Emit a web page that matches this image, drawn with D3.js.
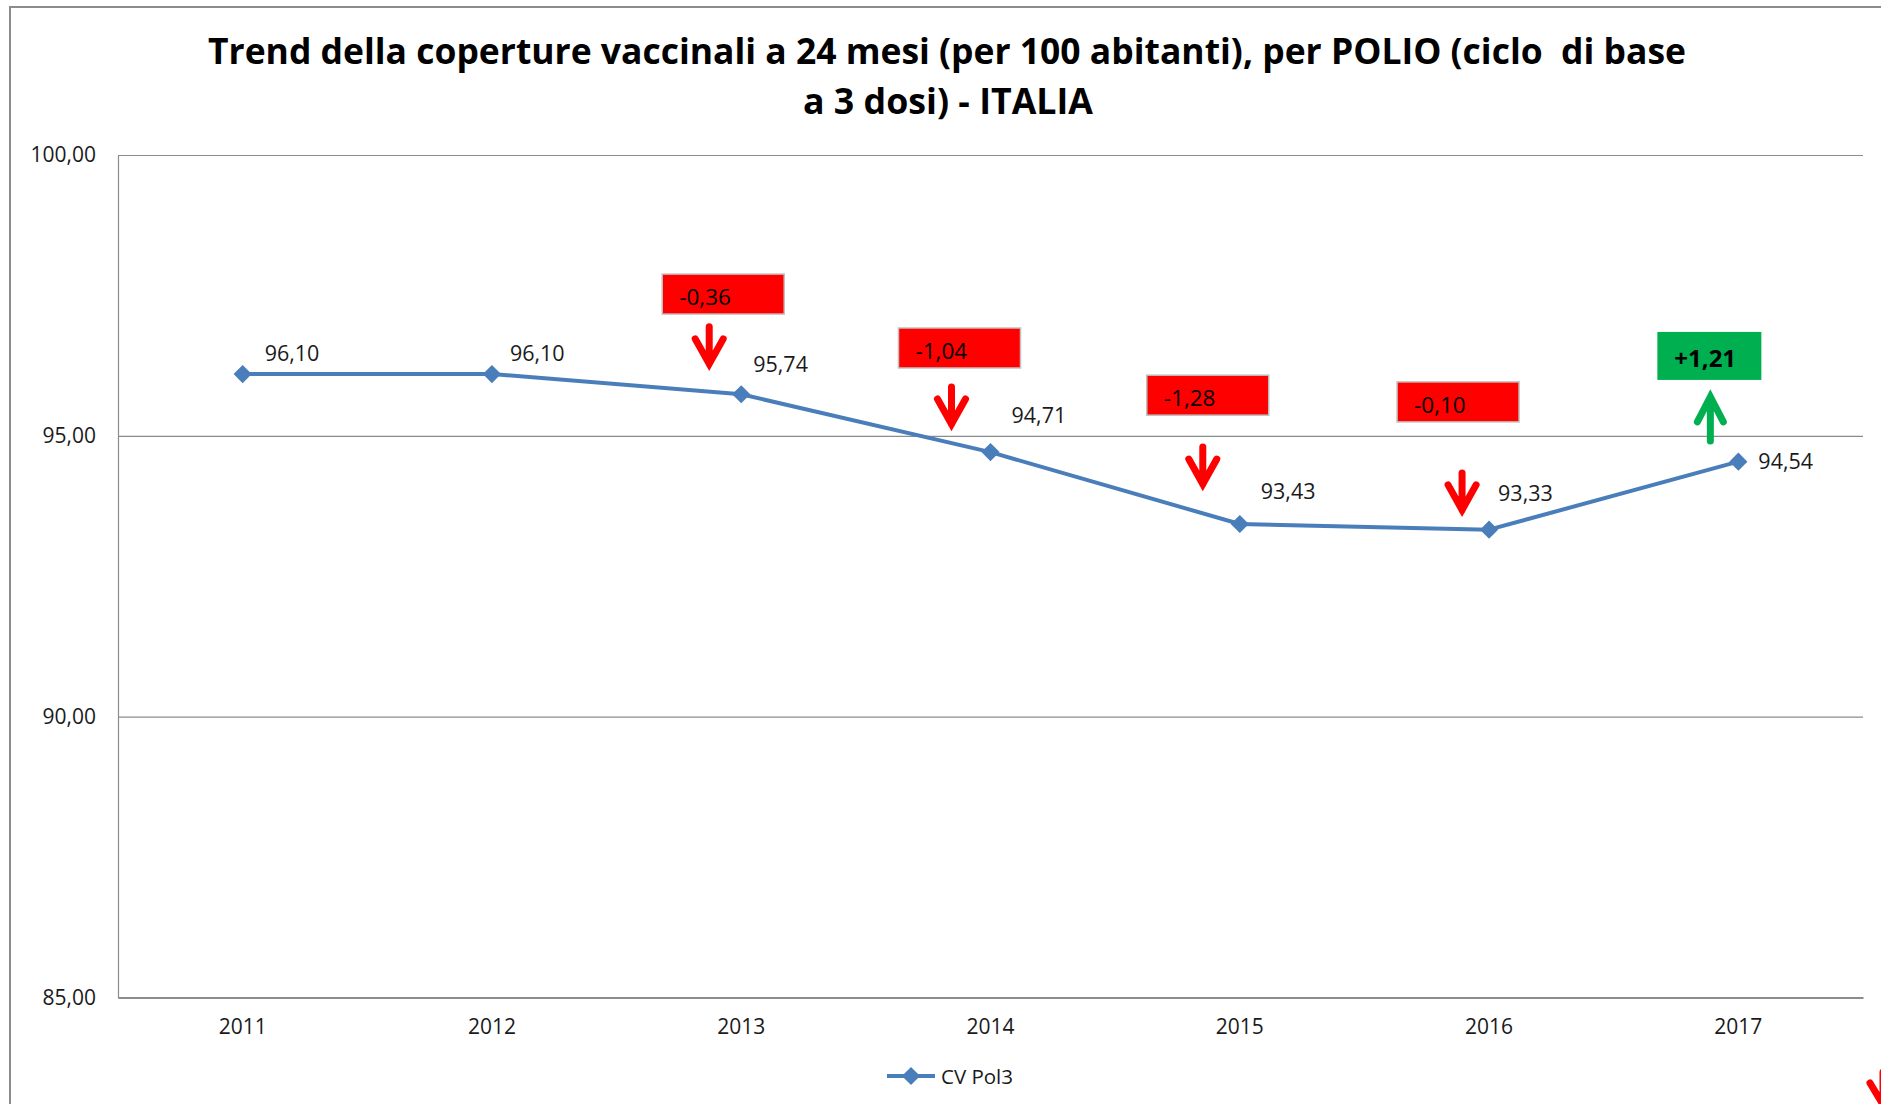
<!DOCTYPE html>
<html lang="it">
<head>
    <meta charset="UTF-8">
    <title>Trend coperture vaccinali POLIO - ITALIA</title>
    <script src="https://d3js.org/d3.v7.min.js"></script>
    <style>
        body {
            margin: 0;
            background: #fff;
            font-family: "Open Sans", Arial, sans-serif;
        }
        svg text {
            fill: #1a1a1a;
        }
        .title {
            font-weight: bold;
            font-size: 35px;
            white-space: pre;
            fill: #000;
        }
        .axis text {
            font-family: "Open Sans", Arial, sans-serif;
            font-size: 21px;
        }
        .axis path, .axis line {
            stroke: #8c8c8c;
        }
    </style>
</head>
<body>
    <svg id="chart" width="1881" height="1104"></svg>

    <script>
        // Dati
        const years = ["2011", "2012", "2013", "2014", "2015", "2016", "2017"];
        const coverage = [96.10, 96.10, 95.74, 94.71, 93.43, 93.33, 94.54];
        const yTicks = [85, 90, 95, 100];
        const seriesName = "CV Pol3";

        // Variazioni annuali (riquadri colorati)
        const changeYears = ["2013", "2014", "2015", "2016", "2017"];
        const changeLabels = ["-0,36", "-1,04", "-1,28", "-0,10", "+1,21"];
        const boxTop = [97.88, 96.92, 96.08, 95.96, 96.85];     // in unità dell'asse y
        const arrowTail = [96.94, 95.87, 94.80, 94.34, 94.91];  // in unità dell'asse y

        // Posizionamento (px rispetto al centro della categoria)
        const boxShift = [-79, -92, -93, -92, -81];
        const arrowShift = [-32, -39, -37, -27, -28];
        const labelDx = [22, 18, 12, 21, 21, 9, 20];
        const labelDy = [-21, -21, -30, -37, -33, -36, 0];

        const fmt = v => v.toFixed(2).replace(".", ",");

        const svg = d3.select("#chart");
        const plotLeft = 118, plotRight = 1863, plotTop = 155, plotBottom = 997.5;

        // Cornice
        svg.append("rect")
            .attr("x", 10).attr("y", 7)
            .attr("width", 1950).attr("height", 1200)
            .attr("fill", "#fff")
            .attr("stroke", "#8c8c8c")
            .attr("stroke-width", 2);

        // Titolo
        svg.append("text").attr("class", "title")
            .attr("x", 208).attr("y", 64)
            .attr("textLength", 1478).attr("lengthAdjust", "spacingAndGlyphs")
            .text("Trend della coperture vaccinali a 24 mesi (per 100 abitanti), per POLIO (ciclo  di base");
        svg.append("text").attr("class", "title")
            .attr("x", 803).attr("y", 114)
            .attr("textLength", 290).attr("lengthAdjust", "spacingAndGlyphs")
            .text("a 3 dosi) - ITALIA");

        // Scale
        const x = d3.scaleBand().domain(years).range([plotLeft, plotRight]).padding(0);
        const y = d3.scaleLinear().domain([85, 100]).range([plotBottom, plotTop]);
        const cx = d => x(d) + x.bandwidth() / 2;

        // Asse y + griglia
        svg.append("g")
            .attr("class", "axis y-axis")
            .attr("transform", `translate(${plotLeft},0)`)
            .call(d3.axisLeft(y)
                .tickValues(yTicks)
                .tickSize(-(plotRight - plotLeft))
                .tickSizeOuter(0)
                .tickPadding(22)
                .tickFormat(fmt))
            .call(g => g.selectAll(".tick line").attr("stroke", "#8c8c8c").attr("stroke-width", 1.2))
            .call(g => g.select(".domain").attr("stroke-width", 1.2));

        // Asse x
        svg.append("g")
            .attr("class", "axis x-axis")
            .attr("transform", `translate(0,${plotBottom})`)
            .call(d3.axisBottom(x).tickSize(0).tickPadding(22))
            .call(g => g.select(".domain").attr("stroke", "#a6a6a6").attr("stroke-width", 2));

        // Linea
        const points = years.map((yr, i) => ({ year: yr, value: coverage[i], i }));
        const line = d3.line().x(d => cx(d.year)).y(d => y(d.value));

        svg.append("path")
            .datum(points)
            .attr("fill", "none")
            .attr("stroke", "#4a7ebb")
            .attr("stroke-width", 4)
            .attr("stroke-linejoin", "round")
            .attr("d", line);

        const diamond = d3.symbol(d3.symbolSquare, 165);
        svg.selectAll(".marker")
            .data(points)
            .join("path")
            .attr("class", "marker")
            .attr("fill", "#4a7ebb")
            .attr("d", diamond)
            .attr("transform", d => `translate(${cx(d.year)},${y(d.value)}) rotate(45)`);

        // Etichette dati
        svg.selectAll(".dlabel")
            .data(points)
            .join("text")
            .attr("class", "dlabel")
            .attr("x", d => cx(d.year) + labelDx[d.i])
            .attr("y", d => y(d.value) + labelDy[d.i] + 7.5)
            .attr("font-size", 21.5)
            .text(d => fmt(d.value));

        // Riquadri variazione + frecce
        const changes = changeYears.map((yr, i) => ({
            year: yr, label: changeLabels[i], up: changeLabels[i].startsWith("+"), i
        }));

        const ann = svg.selectAll(".change")
            .data(changes)
            .join("g")
            .attr("class", "change");

        ann.append("rect")
            .attr("x", d => cx(d.year) + boxShift[d.i])
            .attr("y", d => y(boxTop[d.i]))
            .attr("width", d => d.up ? 104 : 122)
            .attr("height", d => d.up ? 48 : 40)
            .attr("fill", d => d.up ? "#00b050" : "#ff0000")
            .attr("stroke", d => d.up ? "none" : "#c0c0c0")
            .attr("stroke-width", 1.5);

        ann.append("text")
            .attr("x", d => cx(d.year) + boxShift[d.i] + 17)
            .attr("y", d => y(boxTop[d.i]) + (d.up ? 35 : 31))
            .attr("font-size", d => d.up ? 24 : 22.5)
            .attr("font-weight", d => d.up ? "bold" : "normal")
            .style("fill", "#000")
            .text(d => d.label);

        ann.append("path")
            .attr("fill", "none")
            .attr("stroke", d => d.up ? "#00b050" : "#ff0000")
            .attr("stroke-width", 7)
            .attr("stroke-linecap", "round")
            .attr("stroke-linejoin", "miter")
            .attr("d", d => {
                const ax = cx(d.year) + arrowShift[d.i];
                const tail = y(arrowTail[d.i]);
                if (d.up) {
                    const tip = tail - 44;
                    return `M${ax},${tail}L${ax},${tip}M${ax - 13},${tip + 25}L${ax},${tip}L${ax + 13},${tip + 25}`;
                }
                const tip = tail + 37;
                return `M${ax},${tail}L${ax},${tip}M${ax - 14},${tip - 25}L${ax},${tip}L${ax + 14},${tip - 25}`;
            });

        // frammento di freccia nell'angolo
        svg.append("path")
            .attr("fill", "none")
            .attr("stroke", "#ff0000")
            .attr("stroke-width", 7)
            .attr("stroke-linecap", "round")
            .attr("d", "M1870,1083L1885,1108M1883,1072L1883,1108");

        // Legenda
        const legend = svg.append("g").attr("transform", "translate(887,1076)");
        legend.append("line")
            .attr("x1", 0).attr("x2", 48)
            .attr("stroke", "#4a7ebb").attr("stroke-width", 4);
        legend.append("path")
            .attr("d", diamond)
            .attr("fill", "#4a7ebb")
            .attr("transform", "translate(24,0) rotate(45)");
        legend.append("text")
            .attr("x", 54).attr("y", 7.5)
            .attr("font-size", 20.5)
            .text(seriesName);
    </script>
</body>
</html>
